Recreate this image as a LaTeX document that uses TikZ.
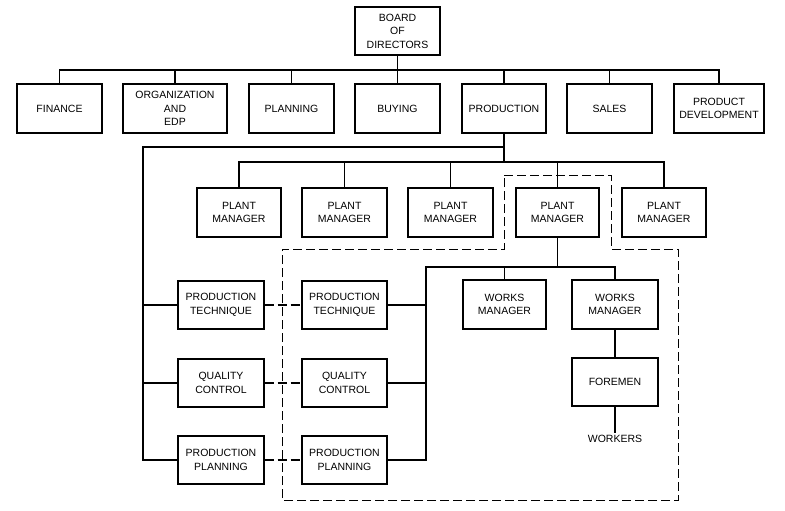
\documentclass[tikz,border=0pt]{standalone}
\usepackage{fontspec}
\setmainfont{Liberation Sans}
\begin{document}
\begin{tikzpicture}[x=1pt,y=-1pt,
  box/.style={draw,line width=1.2pt,align=center,font=\fontsize{10.5}{13.5}\selectfont,inner sep=0pt,minimum height=48pt},
  conn/.style={line width=1.2pt},
  bound/.style={line width=1pt,dash pattern=on 9pt off 4pt},
  lbl/.style={font=\fontsize{10.5}{13.5}\selectfont,inner sep=2pt}]
\useasboundingbox (0,0) rectangle (785,511);
% top level
\node[box,minimum width=85pt] (board) at (397.5,31) {BOARD\\OF\\DIRECTORS};
\node[box,minimum width=85pt,minimum height=49pt] (fin) at (59.5,108.5) {FINANCE};
\node[box,minimum width=104pt,minimum height=49pt] (org) at (175,108.5) {ORGANIZATION\\AND\\EDP};
\node[box,minimum width=85pt,minimum height=49pt] (plan) at (291.5,108.5) {PLANNING};
\node[box,minimum width=85pt,minimum height=49pt] (buy) at (397.5,108.5) {BUYING};
\node[box,minimum width=84pt,minimum height=49pt] (prod) at (504,108.5) {PRODUCTION};
\node[box,minimum width=85pt,minimum height=49pt] (sales) at (609.5,108.5) {SALES};
\node[box,minimum width=90pt,minimum height=49pt] (pdev) at (719,108.5) {PRODUCT\\DEVELOPMENT};
\coordinate (bus1) at (0,70);
\draw[conn] (fin.north) -- (fin.north |- bus1) -- (pdev.north |- bus1) -- (pdev.north);
\foreach \n in {org,plan,prod,sales} \draw[conn] (\n.north) -- (\n.north |- bus1);
\draw[conn] (board.south) -- (buy.north);
% plant managers
\node[box,minimum width=84pt,minimum height=49pt] (pm1) at (239,212.5) {PLANT\\MANAGER};
\node[box,minimum width=85pt,minimum height=49pt] (pm2) at (344.5,212.5) {PLANT\\MANAGER};
\node[box,minimum width=85pt,minimum height=49pt] (pm3) at (450.5,212.5) {PLANT\\MANAGER};
\node[box,minimum width=83pt,minimum height=49pt] (pm4) at (557.5,212.5) {PLANT\\MANAGER};
\node[box,minimum width=84pt,minimum height=49pt] (pm5) at (664,212.5) {PLANT\\MANAGER};
\coordinate (pmbus) at (0,162);
\coordinate (lb) at (143,147);
\draw[conn] (prod.south) -- (prod.south |- pmbus);
\draw[conn] (pm1.north) -- (pm1.north |- pmbus) -- (pm5.north |- pmbus) -- (pm5.north);
\foreach \n in {pm2,pm3,pm4} \draw[conn] (\n.north) -- (\n.north |- pmbus);
% staff boxes
\node[box,minimum width=86pt] (pt1) at (221,305) {PRODUCTION\\TECHNIQUE};
\node[box,minimum width=86pt] (qc1) at (221,383) {QUALITY\\CONTROL};
\node[box,minimum width=86pt] (pp1) at (221,460) {PRODUCTION\\PLANNING};
\node[box,minimum width=85pt] (pt2) at (344.5,305) {PRODUCTION\\TECHNIQUE};
\node[box,minimum width=85pt] (qc2) at (344.5,383) {QUALITY\\CONTROL};
\node[box,minimum width=85pt] (pp2) at (344.5,460) {PRODUCTION\\PLANNING};
\draw[conn] (prod.south |- lb) -- (lb) -- (lb |- pp1) -- (pp1.west);
\draw[conn] (lb |- pt1) -- (pt1.west);
\draw[conn] (lb |- qc1) -- (qc1.west);
\draw[conn,dash pattern=on 9pt off 4pt] (pt1.east) -- (pt2.west);
\draw[conn,dash pattern=on 9pt off 4pt] (qc1.east) -- (qc2.west);
\draw[conn,dash pattern=on 9pt off 4pt] (pp1.east) -- (pp2.west);
% works managers
\node[box,minimum width=83pt,minimum height=49pt] (wm1) at (504.5,304.5) {WORKS\\MANAGER};
\node[box,minimum width=86pt,minimum height=49pt] (wm2) at (615,304.5) {WORKS\\MANAGER};
\node[box,minimum width=86pt] (fore) at (615,382) {FOREMEN};
\node[lbl,anchor=north] (work) at (615,433) {WORKERS};
\coordinate (wbus) at (0,267);
\coordinate (rb) at (426,267);
\draw[conn] (pm4.south) -- (pm4.south |- wbus);
\draw[conn] (pp2.east) -- (rb |- pp2) -- (rb) -- (wm2.north |- wbus) -- (wm2.north);
\draw[conn] (wm1.north |- wbus) -- (wm1.north);
\draw[conn] (pt2.east) -- (rb |- pt2);
\draw[conn] (qc2.east) -- (rb |- qc2);
\draw[conn] (wm2.south) -- (fore.north);
\draw[conn] (fore.south) -- (work.north);
% dashed boundary
\draw[bound] (504,175) -- (611,175) -- (611,249) -- (678,249) -- (678,500) -- (282,500) -- (282,249) -- (504,249) -- cycle;
\end{tikzpicture}
\end{document}
